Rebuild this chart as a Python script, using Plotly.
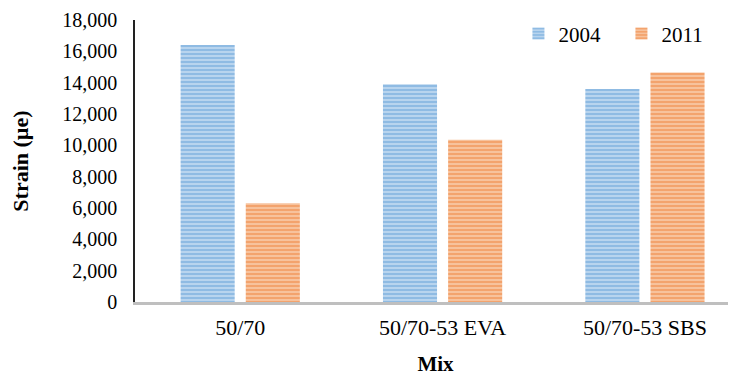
import plotly.graph_objects as go

categories = ["50/70", "50/70-53 EVA", "50/70-53 SBS"]
series_2004 = [16400, 13900, 13600]
series_2011 = [6300, 10350, 14650]
y_ticks = [0, 2000, 4000, 6000, 8000, 10000, 12000, 14000, 16000, 18000]

FONT = "Liberation Serif, Times New Roman, serif"

fig = go.Figure()
fig.add_trace(go.Bar(
    name="2004", x=categories, y=series_2004,
    marker=dict(color="#9DC3E6", line=dict(width=0),
                pattern=dict(shape="-", fgcolor="#5B9BD5", bgcolor="#C2DAF1",
                             size=4, solidity=0.6)),
))
fig.add_trace(go.Bar(
    name="2011", x=categories, y=series_2011,
    marker=dict(color="#F4B183", line=dict(width=0),
                pattern=dict(shape="-", fgcolor="#ED7D31", bgcolor="#F8C9A8",
                             size=4, solidity=0.6)),
))

fig.update_layout(
    width=728, height=368,
    margin=dict(l=127, r=0, t=12, b=74, autoexpand=False),
    paper_bgcolor="white", plot_bgcolor="white",
    barmode="group", bargap=0.356, bargroupgap=0.17,
    font=dict(family=FONT, size=20, color="black"),
    showlegend=True,
    legend=dict(orientation="h", x=0.638, y=1.024, xanchor="left", yanchor="top",
                font=dict(family=FONT, size=21), bgcolor="rgba(0,0,0,0)",
                itemwidth=30, traceorder="normal",
                entrywidth=58, entrywidthmode="pixels"),
    xaxis=dict(
        type="category", range=[-0.52, 2.45], automargin=False,
        showline=True, linecolor="#BFBFBF", linewidth=3,
        showgrid=False, ticks="", zeroline=False,
        tickfont=dict(family=FONT, size=22), ticklabelstandoff=4,
        title=dict(text="<b>Mix</b>", font=dict(family=FONT, size=21), standoff=29),
    ),
    yaxis=dict(
        range=[0, 18000], tickvals=y_ticks, tickformat=",d", automargin=False,
        showline=True, linecolor="#222222", linewidth=1.5,
        showgrid=False, ticks="", zeroline=False,
        tickfont=dict(family=FONT, size=20), ticklabelstandoff=12,
        title=dict(text="<b>Strain (µe)</b>", font=dict(family=FONT, size=22), standoff=28),
    ),
)

fig.write_html("out.html")
